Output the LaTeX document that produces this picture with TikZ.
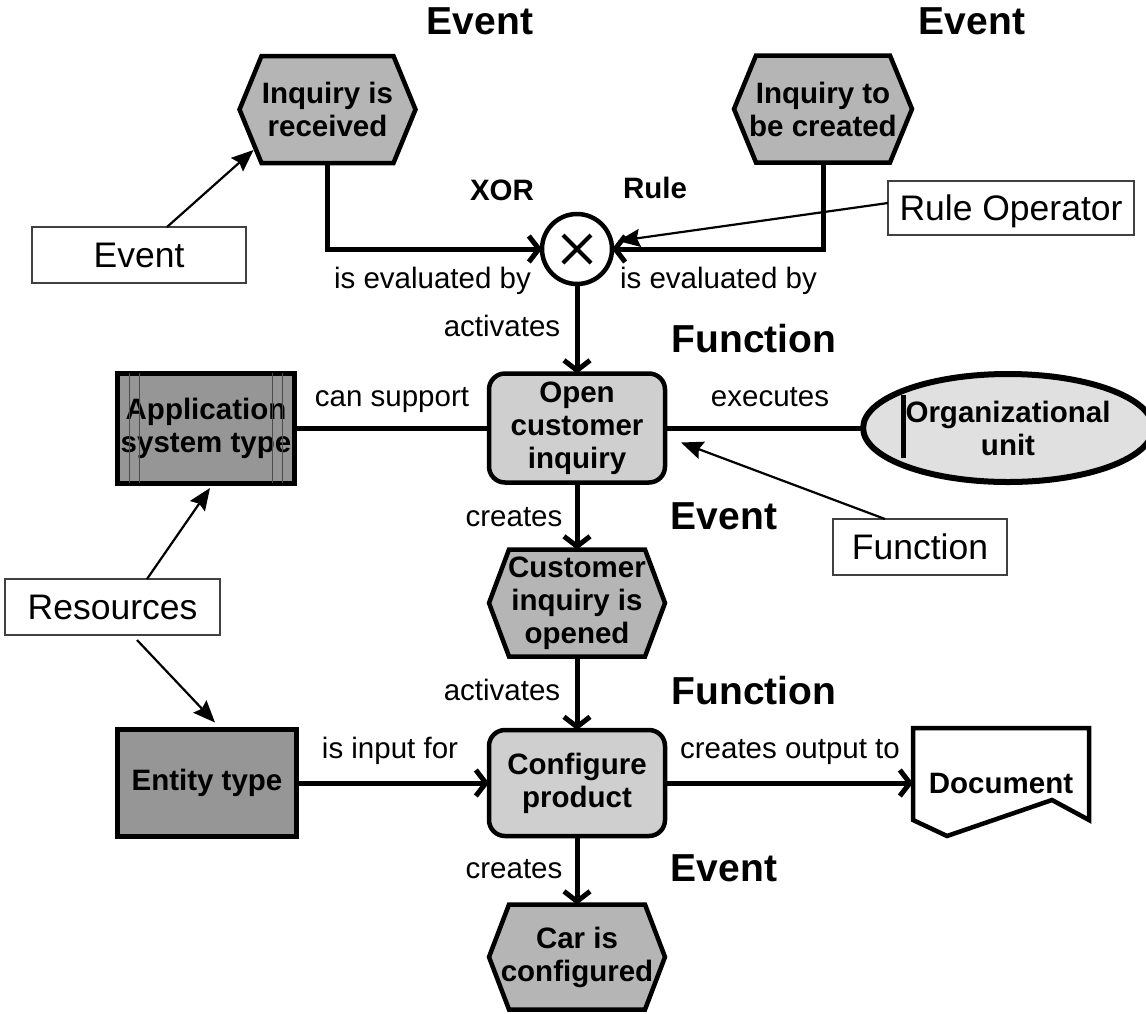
\documentclass[tikz,border=0pt]{standalone}
\usepackage{fontspec}
\setmainfont{Liberation Sans}
\usetikzlibrary{arrows.meta,calc,shapes.geometric,backgrounds}
\definecolor{evtgray}{gray}{0.71}
\definecolor{fngray}{gray}{0.81}
\definecolor{resgray}{gray}{0.59}
\definecolor{orggray}{gray}{0.88}
\definecolor{notegray}{gray}{0.25}

% hexagonal event outline around node #1, side points inset by #2
\newcommand\evtpath[2]{%
  \begin{pgfonlayer}{background}
    \draw[evtline] ($(#1.north west)+(#2,0)$) -- ($(#1.north east)+(-#2,0)$)
      -- (#1.east) -- ($(#1.south east)+(-#2,0)$) -- ($(#1.south west)+(#2,0)$)
      -- (#1.west) -- cycle;
  \end{pgfonlayer}}

\begin{document}
\begin{tikzpicture}[x=1pt,y=-1pt,
  base/.style={inner sep=0pt,outer sep=0pt},
  shapetext/.style={base,align=center,font=\fontsize{29.5}{33}\selectfont\bfseries},
  evt/.style={shapetext},
  evtline/.style={draw,line width=4.5pt,fill=evtgray,line join=miter},
  docline/.style={draw,line width=4.5pt,fill=white,line join=miter},
  fn/.style={shapetext,draw,line width=4.5pt,rounded corners=16pt,fill=fngray},
  res/.style={shapetext,draw,line width=5pt,fill=resgray},
  org/.style={shapetext,ellipse,draw,line width=6pt,fill=orggray},
  head/.style={base,font=\fontsize{39}{44}\selectfont\bfseries,text height=28pt,text depth=0pt},
  subhead/.style={base,font=\fontsize{29.5}{33}\selectfont\bfseries,text height=21pt,text depth=0pt},
  lbl/.style={base,font=\fontsize{29.5}{33}\selectfont,text height=21pt,text depth=0pt},
  note/.style={base,draw=notegray,line width=2pt,fill=white,font=\fontsize{35.5}{40}\selectfont,text height=25.5pt,text depth=0pt},
  notearrow/.style={line width=2.2pt,-{Stealth[length=22pt,width=18pt,inset=3pt]}},
  flow/.style={line width=5pt,-{Straight Barb[length=10pt,width=26pt]}},
  link/.style={line width=5pt},
  thinrule/.style={line width=1.2pt,black!70}
]
\begin{pgfonlayer}{background}
  \fill[white] (0,0) rectangle (1146,1013);
\end{pgfonlayer}
\useasboundingbox (0,0) rectangle (1146,1013);

% events, functions and resources
\node[evt,minimum width=176pt,minimum height=107pt] (ev1) at (327.5,109.5) {Inquiry is\\received};
\node[evt,minimum width=178pt,minimum height=107pt] (ev2) at (823,109) {Inquiry to\\be created};
\node[base,circle,draw,line width=4.5pt,fill=white,minimum size=70pt] (xor) at (577,249) {};
\node[fn,minimum width=176pt,minimum height=109pt] (fn1) at (577,428) {Open\\customer\\inquiry};
\node[evt,minimum width=176pt,minimum height=107pt] (ev3) at (577,603) {Customer\\inquiry is\\opened};
\node[fn,minimum width=176pt,minimum height=106pt] (fn2) at (577,783) {Configure\\product};
\node[evt,minimum width=176pt,minimum height=105pt] (ev4) at (577,957) {Car is\\configured};
\node[res,minimum width=177pt,minimum height=110pt] (app) at (206,428) {Application\\system type};
\node[res,minimum width=179pt,minimum height=107pt] (ent) at (207,783) {Entity type};
\node[org,minimum width=264pt,minimum height=108pt] (org) at (1008,428) {Organizational\\unit};
\node[shapetext,minimum width=176pt,minimum height=110pt] (doc) at (1001,783) {Document};

\evtpath{ev1}{22}
\evtpath{ev2}{22}
\evtpath{ev3}{20}
\evtpath{ev4}{20}

% document outline with its cut-off lower edge
\begin{pgfonlayer}{background}
  \draw[docline] ($(doc.center)+(-88,-55)$) -- ($(doc.center)+(88,-55)$)
    -- ($(doc.center)+(88,37)$) -- ($(doc.center)+(51,17)$)
    -- ($(doc.center)+(-54,53)$) -- ($(doc.center)+(-88,37)$) -- cycle;
\end{pgfonlayer}

% XOR cross
\draw[line width=4pt] ($(xor.center)+(-14,-14)$) -- ($(xor.center)+(14,14)$);
\draw[line width=4pt] ($(xor.center)+(-14,14)$) -- ($(xor.center)+(14,-14)$);

% application system stripes
\draw[thinrule] ($(app.north west)+(12,0)$) -- ($(app.south west)+(12,0)$);
\draw[thinrule] ($(app.north west)+(22,0)$) -- ($(app.south west)+(22,0)$);
\draw[thinrule] ($(app.north east)+(-12,0)$) -- ($(app.south east)+(-12,0)$);
\draw[thinrule] ($(app.north east)+(-22,0)$) -- ($(app.south east)+(-22,0)$);

% organizational unit bar
\draw[line width=5pt] ($(org.center)+(-105,-33)$) -- ($(org.center)+(-105,30)$);

% control flow
\draw[flow] (ev1.south) |- (xor.west);
\draw[flow] (ev2.south) |- (xor.east);
\draw[flow] (xor.south) -- (fn1.north);
\draw[link] (app.east) -- (fn1.west);
\draw[link] (fn1.east) -- (org.west);
\draw[flow] (fn1.south) -- (ev3.north);
\draw[flow] (ev3.south) -- (fn2.north);
\draw[flow] (ent.east) -- (fn2.west);
\draw[flow] (fn2.east) -- (doc.west);
\draw[flow] (fn2.south) -- (ev4.north);

% connector labels
\node[lbl] (l1) at (432.5,278) {is evaluated by};
\node[lbl] (l2) at (718.5,278) {is evaluated by};
\node[lbl] (l3) at (502,326) {activates};
\node[lbl] (l4) at (392,396) {can support};
\node[lbl] (l5) at (770,396) {executes};
\node[lbl] (l6) at (514,516) {creates};
\node[lbl] (l7) at (502,690) {activates};
\node[lbl] (l8) at (390,748) {is input for};
\node[lbl] (l9) at (790,748) {creates output to};
\node[lbl] (l10) at (514,868) {creates};

% element type headings
\node[head] (h1) at (480,20) {Event};
\node[head] (h2) at (972,20) {Event};
\node[subhead] (h3) at (502,190) {XOR};
\node[subhead] (h4) at (655,188) {Rule};
\node[head] (h5) at (754,338) {Function};
\node[head] (h6) at (724,515) {Event};
\node[head] (h7) at (754,690) {Function};
\node[head] (h8) at (724,867) {Event};

% callouts
\node[note,minimum width=214pt,minimum height=56pt] (nEvent) at (139,255) {Event};
\node[note,minimum width=246pt,minimum height=54pt] (nRule) at (1011,208) {Rule Operator};
\node[note,minimum width=174pt,minimum height=56pt] (nFunc) at (920,547) {Function};
\node[note,minimum width=215pt,minimum height=56pt] (nRes) at (112.5,607) {Resources};

\draw[notearrow] ([shift={(28,0)}]nEvent.north) -- ([shift={(14,-13)}]ev1.south west);
\draw[notearrow] ([shift={(0,-5)}]nRule.west) -- ($(xor.center)+(41,-8)$);
\draw[notearrow] ([shift={(-35,0)}]nFunc.north) -- ([shift={(16,-40)}]fn1.south east);
\draw[notearrow] ([shift={(34.5,0)}]nRes.north) -- ([shift={(4,5)}]app.south);
\draw[notearrow] ([shift={(24.5,5)}]nRes.south) -- ([shift={(8,-7)}]ent.north);
\end{tikzpicture}
\end{document}
